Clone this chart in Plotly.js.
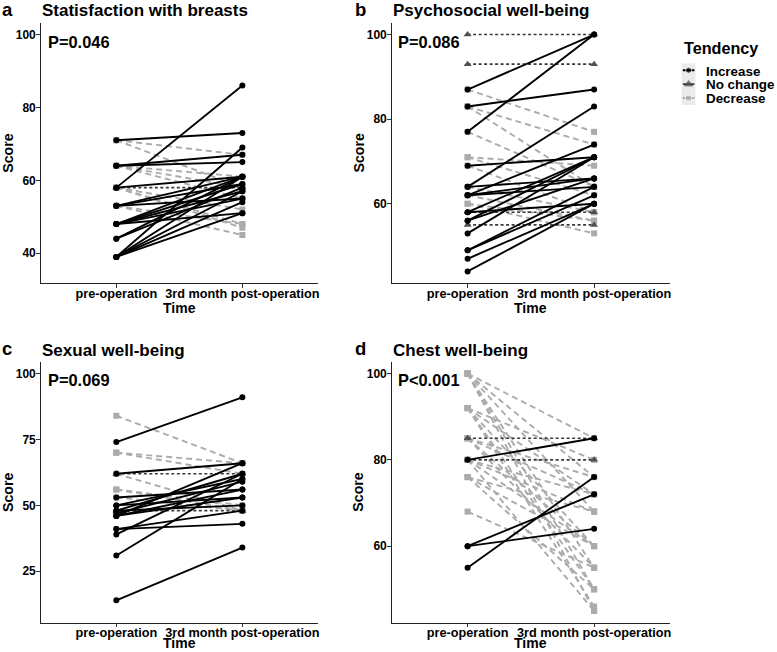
<!DOCTYPE html>
<html>
<head>
<meta charset="utf-8">
<script src="https://cdn.plot.ly/plotly-3.0.1.min.js"></script>
<style>html,body{margin:0;padding:0;background:#fff;}#chart{width:777px;height:652px;}</style>
</head>
<body>
<div id="chart"></div>
<script>
// ---------- data ----------
const timeCats = ['pre-operation', '3rd month post-operation'];
const yTicksA = [40, 60, 80, 100];
const yTicksB = [60, 80, 100];
const yTicksC = [25, 50, 75, 100];
const yTicksD = [60, 80, 100];

// a: Satisfaction with breasts
const aIncPre  = [58, 71, 39, 64, 64, 58, 53, 53, 48, 48, 48, 48, 48, 44, 44, 39, 39, 39, 39, 53];
const aIncPost = [86, 73, 69, 67, 65, 61, 61, 59, 61, 59, 57, 55, 51, 61, 58, 61, 57, 54, 51, 55];
const aNoPre   = [58];
const aNoPost  = [58];
const aDecPre  = [71, 71, 64, 64, 64, 58, 58, 58, 53, 53];
const aDecPost = [67, 58, 61, 58, 55, 52, 48, 47, 45, 48];

// b: Psychosocial well-being
const bIncPre  = [87, 77, 83, 64, 62, 69, 64, 58, 56, 62, 56, 53, 49, 49, 47, 44, 58, 62];
const bIncPost = [100, 100, 87, 83, 74, 71, 66, 71, 71, 64, 66, 71, 64, 62, 60, 60, 60, 66];
const bNoPre   = [100, 93, 58, 55];
const bNoPost  = [100, 93, 58, 55];
const bDecPre  = [87, 83, 83, 77, 71, 71, 69, 60, 60, 62, 64];
const bDecPost = [77, 74, 64, 64, 69, 62, 58, 56, 53, 56, 58];

// c: Sexual well-being
const cIncPre  = [74, 14, 62, 41, 31, 39, 46, 47, 53, 50, 48, 46, 41, 50, 46, 48];
const cIncPost = [91, 34, 66, 43, 60, 62, 66, 59, 56, 53, 50, 56, 48, 60, 53, 62];
const cNoPre   = [62, 48];
const cNoPost  = [62, 48];
const cDecPre  = [84, 70, 70, 62, 56, 56, 53];
const cDecPost = [66, 66, 62, 48, 48, 50, 48];

// d: Chest well-being
const dIncPre  = [80, 60, 55, 60];
const dIncPost = [85, 72, 76, 64];
const dNoPre   = [85, 80];
const dNoPost  = [85, 80];
const dDecPre  = [100, 100, 100, 100, 100, 92, 92, 92, 92, 85, 85, 85, 85, 80, 80, 80, 80, 76, 76, 76, 68, 100, 92];
const dDecPost = [85, 76, 68, 55, 50, 80, 72, 60, 46, 76, 72, 60, 55, 72, 68, 60, 45, 68, 60, 50, 55, 45, 50];

const panelTitles = ['Statisfaction with breasts', 'Psychosocial well-being', 'Sexual well-being', 'Chest well-being'];
const panelTags = ['a', 'b', 'c', 'd'];
const pValues = ['P=0.046', 'P=0.086', 'P=0.069', 'P<0.001'];
const tendencyNames = ['Increase', 'No change', 'Decrease'];

// ---------- layout helpers ----------
const W = 777, H = 652;
const FONT = 'Liberation Sans, Arial, Helvetica, sans-serif';
const px = p => p / W;
const py = p => 1 - p / H;

const styles = {
  'Increase':  {line: {color: '#000000', width: 1.9}, marker: {symbol: 'circle', size: 6, color: '#000000'}},
  'No change': {line: {color: '#3a3a3a', width: 1.6, dash: '3px,2.5px'}, marker: {symbol: 'triangle-up', size: 7, color: '#505050'}},
  'Decrease':  {line: {color: '#ababab', width: 1.9, dash: '6px,4px'}, marker: {symbol: 'square', size: 6, color: '#ababab'}}
};

function segs(pre, post) {
  const x = [], y = [];
  for (let i = 0; i < pre.length; i++) {
    x.push(timeCats[0], timeCats[1], null);
    y.push(pre[i], post[i], null);
  }
  return {x, y};
}

const panels = [
  {inc: [aIncPre, aIncPost], no: [aNoPre, aNoPost], dec: [aDecPre, aDecPost], ticks: yTicksA, range: [31.75, 103.25],
   xd: [40.7, 318], yd: [22.7, 283.3]},
  {inc: [bIncPre, bIncPost], no: [bNoPre, bNoPost], dec: [bDecPre, bDecPost], ticks: yTicksB, range: [41.2, 102.8],
   xd: [391.7, 670], yd: [22.7, 283.3]},
  {inc: [cIncPre, cIncPost], no: [cNoPre, cNoPost], dec: [cDecPre, cDecPost], ticks: yTicksC, range: [5.5, 104.5],
   xd: [40.7, 318], yd: [361.7, 622.7]},
  {inc: [dIncPre, dIncPost], no: [dNoPre, dNoPost], dec: [dDecPre, dDecPost], ticks: yTicksD, range: [42.25, 102.75],
   xd: [391.7, 670], yd: [361.7, 622.7]}
];

const traces = [];
const layout = {
  width: W, height: H,
  margin: {l: 0, r: 0, t: 0, b: 0},
  paper_bgcolor: '#ffffff', plot_bgcolor: '#ffffff',
  showlegend: false,
  font: {family: FONT, color: '#000'},
  annotations: [], shapes: []
};

panels.forEach((p, i) => {
  const n = i === 0 ? '' : String(i + 1);
  const xa = 'x' + n, ya = 'y' + n;
  [['Decrease', p.dec], ['No change', p.no], ['Increase', p.inc]].forEach(([name, arr]) => {
    const s = segs(arr[0], arr[1]);
    traces.push({
      type: 'scatter', mode: 'lines+markers', name: name,
      x: s.x, y: s.y, xaxis: xa, yaxis: ya,
      line: styles[name].line, marker: styles[name].marker,
      connectgaps: false, hoverinfo: 'skip', cliponaxis: false
    });
  });
  layout['xaxis' + n] = {
    domain: [px(p.xd[0]), px(p.xd[1])], anchor: ya,
    type: 'category', categoryorder: 'array', categoryarray: timeCats,
    range: [-0.6, 1.6], fixedrange: true,
    showline: true, linecolor: '#222', linewidth: 1,
    ticks: 'outside', ticklen: 3.5, tickcolor: '#333', tickwidth: 1,
    ticklabelstandoff: -5,
    showgrid: false, zeroline: false,
    tickfont: {family: FONT, size: 12.7, color: '#000', weight: 'bold'}
  };
  layout['yaxis' + n] = {
    domain: [py(p.yd[1]), py(p.yd[0])], anchor: xa,
    range: p.range, tickvals: p.ticks, ticktext: p.ticks.map(String), fixedrange: true,
    showline: true, linecolor: '#222', linewidth: 1,
    ticks: 'outside', ticklen: 3.5, tickcolor: '#333', tickwidth: 1,
    ticklabelstandoff: -2,
    showgrid: false, zeroline: false,
    tickfont: {family: FONT, size: 12, color: '#000', weight: 'bold'}
  };
  const top = p.yd[0], bottom = p.yd[1];
  const row = i < 2 ? 0 : 1;
  // panel tag
  layout.annotations.push({
    xref: 'paper', yref: 'paper', x: px(i % 2 === 0 ? 0 : 352.7), y: py(row === 0 ? 9.8 : 348.5),
    xanchor: 'left', yanchor: 'middle', showarrow: false, text: panelTags[i],
    font: {family: FONT, size: 18.5, color: '#000', weight: 'bold'}
  });
  // title
  layout.annotations.push({
    xref: 'paper', yref: 'paper', x: px(p.xd[0] - 1), y: py(row === 0 ? 10.3 : 350.3),
    xanchor: 'left', yanchor: 'middle', showarrow: false, text: panelTitles[i],
    font: {family: FONT, size: 17, color: '#000', weight: 'bold'}
  });
  // p value
  layout.annotations.push({
    xref: 'paper', yref: 'paper', x: px(p.xd[0] + (i % 2 === 0 ? 5.5 : 4)), y: py(row === 0 ? 42 : 380.3),
    xanchor: 'left', yanchor: 'middle', showarrow: false, text: pValues[i],
    font: {family: FONT, size: 16.4, color: '#000', weight: 'bold'}
  });
  // y title
  layout.annotations.push({
    xref: 'paper', yref: 'paper', x: px(i % 2 === 0 ? 7.8 : 358.5), y: py((top + bottom) / 2),
    xanchor: 'center', yanchor: 'middle', showarrow: false, text: 'Score', textangle: -90,
    font: {family: FONT, size: 14.2, color: '#000', weight: 'bold'}
  });
  // x title
  layout.annotations.push({
    xref: 'paper', yref: 'paper', x: px((p.xd[0] + p.xd[1]) / 2), y: py(row === 0 ? 308.3 : 643),
    xanchor: 'center', yanchor: 'middle', showarrow: false, text: 'Time',
    font: {family: FONT, size: 14, color: '#000', weight: 'bold'}
  });
});

// ---------- legend (built with a small axis) ----------
const legRows = [1, 2, 3];
layout.shapes.push({
  type: 'rect', xref: 'paper', yref: 'paper', layer: 'below',
  x0: px(681.7), x1: px(695.5), y0: py(105), y1: py(63.3),
  fillcolor: '#ebebeb', line: {width: 0}
});
layout.xaxis5 = {domain: [px(681.7), px(695.5)], anchor: 'y5', range: [0, 1], visible: false, fixedrange: true};
layout.yaxis5 = {domain: [py(105), py(63.3)], anchor: 'x5', range: [3.5, 0.5], visible: false, fixedrange: true};
tendencyNames.forEach((name, k) => {
  const st = styles[name];
  traces.push({
    type: 'scatter', mode: 'lines+markers', xaxis: 'x5', yaxis: 'y5', hoverinfo: 'skip',
    x: [0.08, 0.5, 0.92], y: [legRows[k], legRows[k], legRows[k]],
    line: Object.assign({}, st.line, {dash: 'solid'}),
    marker: Object.assign({}, st.marker, {size: [0, st.marker.size, 0]})
  });
  layout.annotations.push({
    xref: 'paper', yref: 'paper', x: px(703.5), y: py([71.3, 84.6, 98.3][k]),
    xanchor: 'left', yanchor: 'middle', showarrow: false, text: name,
    font: {family: FONT, size: 13.4, color: '#000', weight: 'bold'}
  });
});
layout.annotations.push({
  xref: 'paper', yref: 'paper', x: px(682.3), y: py(48.3),
  xanchor: 'left', yanchor: 'middle', showarrow: false, text: 'Tendency',
  font: {family: FONT, size: 16.2, color: '#000', weight: 'bold'}
});

Plotly.newPlot('chart', traces, layout, {staticPlot: true, displayModeBar: false});
</script>
</body>
</html>
